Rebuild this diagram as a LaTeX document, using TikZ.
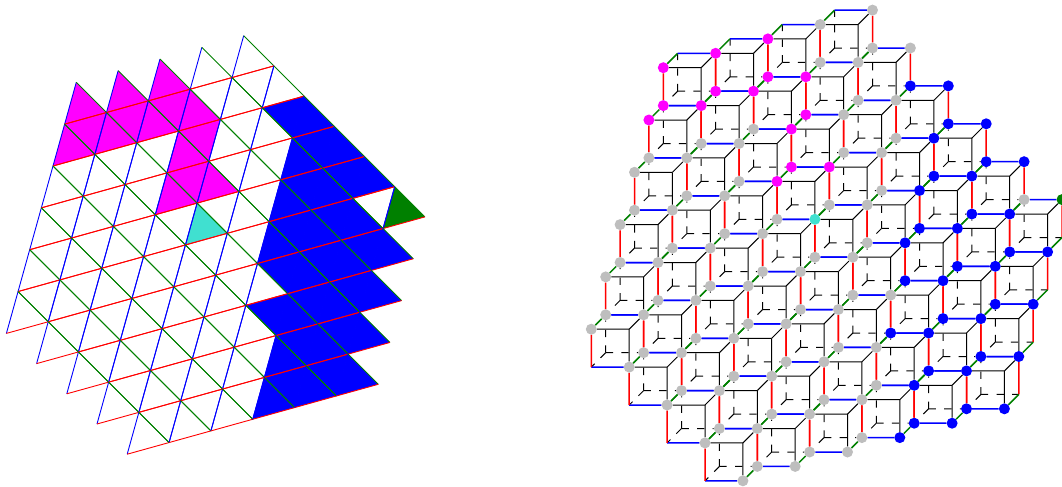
\documentclass[tikz,border=0pt]{standalone}
\usetikzlibrary{calc}
\definecolor{cellgray}{HTML}{BEBEBE}
\definecolor{cellmag}{HTML}{FF00FF}
\definecolor{cellblue}{HTML}{0000FF}
\definecolor{cellcyan}{HTML}{40E0D0}
\definecolor{cellgreen}{HTML}{008000}
\definecolor{edgered}{HTML}{FF0000}
\definecolor{edgeblue}{HTML}{0000FF}
\definecolor{edgegreen}{HTML}{008000}

\newcommand{\markcells}[2]{\foreach \t in {#2}{\expandafter\xdef\csname cell@\t\endcsname{#1}}}
\newcommand{\cellcol}[1]{\ifcsname cell@#1\endcsname\edef\col{\csname cell@#1\endcsname}\else\def\col{cellgray}\fi}

\markcells{cellmag}{A-0-0,A-1-0,A-2-0,A-0-1,B-0-1,A-1-1,B-1-1,A-2-1,B-2-1,A-3-1,A-3-2,B-3-2,A-3-3,B-3-3,A-4-3}
\markcells{cellcyan}{A-4-4}
\markcells{cellgreen}{A-9-5}
\markcells{cellblue}{B-5-2,A-6-2,B-6-3,A-6-3,A-7-3,B-6-4,A-6-4,B-7-4,A-7-4,A-8-4,B-6-5,A-6-5,B-7-5,A-7-5,A-8-5,
  B-6-6,A-7-6,B-7-6,A-8-6,B-8-6,A-9-6,B-6-7,A-7-7,B-7-7,A-8-7,B-8-7,A-9-7,
  A-7-8,B-7-8,A-8-8,B-8-8,A-9-8,A-7-9,B-7-9,A-8-9,B-8-9,A-9-9}

\begin{document}
\begin{tikzpicture}[
    site/.style={circle, fill=#1, inner sep=0pt, minimum size=11bp},
    tri/.style={line width=.9bp, #1},
    hex/.style={line width=1.5bp, #1},
    front/.style={line width=1bp, black},
    hidden/.style={line width=1bp, black, dash pattern=on 7.3bp off 8.3bp},
]
\useasboundingbox (0,0) rectangle (1062bp,-487bp);

% Triangular lattice
\begin{scope}[shift={(76.3bp,-82.3bp)}, x={(41.85bp,11.65bp)}, y={(-11.65bp,-41.85bp)}]
% Coloured cells
\foreach \i in {0,...,9}{\foreach \j in {0,...,9}{
    \pgfmathtruncatemacro\ip{\i+1}
    \pgfmathtruncatemacro\jp{\j+1}
    \ifcsname cell@A-\i-\j\endcsname
        \cellcol{A-\i-\j}
        \fill[\col] (\i,\j) -- (\ip,\jp) -- (\i,\jp) -- cycle;
    \fi
    \ifcsname cell@B-\i-\j\endcsname
        \cellcol{B-\i-\j}
        \fill[\col] (\i,\j) -- (\ip,\j) -- (\ip,\jp) -- cycle;
    \fi
}}
% Triangle outlines
\foreach \i in {0,...,9}{\foreach \j in {0,...,9}{
    \pgfmathtruncatemacro\ip{\i+1}
    \pgfmathtruncatemacro\jp{\j+1}
    \pgfmathtruncatemacro\c{\i-\j}
    \ifnum\c<-5 \else\ifnum\c>4 \else
        \draw[tri=edgeblue] (\i,\j) -- (\i,\jp);
        \draw[tri=edgegreen] (\i,\j) -- (\ip,\jp);
        \draw[tri=edgered] (\i,\jp) -- (\ip,\jp);
    \fi\fi
    \ifnum\c<-5 \else\ifnum\c>3 \else\ifnum\j>0 \ifnum\i<9
        \draw[tri=edgered] (\i,\j) -- (\ip,\j);
        \draw[tri=edgeblue] (\ip,\j) -- (\ip,\jp);
        \draw[tri=edgegreen] (\i,\j) -- (\ip,\jp);
    \fi\fi\fi\fi
}}
\end{scope}

% Honeycomb of cubes
\begin{scope}[shift={(663.3bp,-67.7bp)}, x={(52.3bp,14.4bp)}, y={(-14.4bp,-52.3bp)}]
% Sites
\foreach \i in {0,...,9}{\foreach \j in {0,...,9}{
    \pgfmathtruncatemacro\c{\i-\j}
    \cellcol{A-\i-\j}
    \coordinate (A-\i-\j) at (\i,\j);
    \ifnum\c<-5 \else\ifnum\c>4 \else
        \node[site=\col] (A-\i-\j) at (\i,\j) {};
    \fi\fi
    \cellcol{B-\i-\j}
    \coordinate (B-\i-\j) at ({\i+.2159},{\j-.2159});
    \ifnum\c<-5 \else\ifnum\c>3 \else\ifnum\j>0 \ifnum\i<9
        \node[site=\col] (B-\i-\j) at ({\i+.2159},{\j-.2159}) {};
    \fi\fi\fi\fi
}}
% One cube around each inner lattice point
\foreach \i in {1,...,9}{\foreach \j in {1,...,9}{
    \pgfmathtruncatemacro\ii{\i-1}
    \pgfmathtruncatemacro\jj{\j-1}
    \pgfmathtruncatemacro\c{\i-\j}
    \ifnum\c<-5 \else\ifnum\c>3 \else
        \coordinate (front) at ({\ii+.7841},{\jj+.2159});
        \coordinate (back) at ({\ii+.4318},{\j-.4318});
        \draw[front] (front) -- (A-\ii-\jj);
        \draw[front] (front) -- (A-\i-\j);
        \draw[front] (front) -- (A-\i-\jj);
        \draw[hidden] (back) -- (B-\ii-\jj);
        \draw[hidden] (back) -- (B-\i-\j);
        \draw[hidden] (back) -- (B-\ii-\j);
        \draw[hex=edgegreen] (A-\ii-\jj) -- (B-\ii-\jj);
        \draw[hex=edgeblue] (B-\ii-\jj) -- (A-\i-\jj);
        \draw[hex=edgered] (A-\i-\jj) -- (B-\i-\j);
        \draw[hex=edgegreen] (B-\i-\j) -- (A-\i-\j);
        \draw[hex=edgeblue] (A-\i-\j) -- (B-\ii-\j);
        \draw[hex=edgered] (B-\ii-\j) -- (A-\ii-\jj);
    \fi\fi
}}
\end{scope}

\end{tikzpicture}
\end{document}
